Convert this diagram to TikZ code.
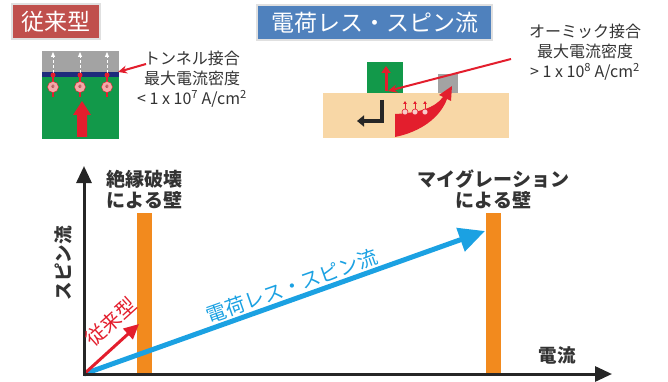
\documentclass[tikz,border=0pt]{standalone}
\usepackage{fontspec}
\setmainfont{Noto Sans CJK JP}
\usetikzlibrary{positioning,arrows.meta}

\definecolor{oldred}{HTML}{C0504D}
\definecolor{newblue}{HTML}{4F81BD}
\definecolor{wallorange}{HTML}{F28A1E}
\definecolor{spinblue}{HTML}{1BA1E2}
\definecolor{arrowred}{HTML}{E31E2D}
\definecolor{textgray}{HTML}{333333}
\definecolor{chipgreen}{HTML}{12994A}
\definecolor{oxideblue}{HTML}{1E2B7C}
\definecolor{sand}{HTML}{F8D7A6}
\definecolor{padgray}{HTML}{A3A3A3}
\definecolor{electron}{HTML}{F4A8A8}

\begin{document}
\begin{tikzpicture}[x=1pt, y=-1pt,
    every node/.style={text=textgray, align=center, inner sep=0pt},
    titlebox/.style={draw=black!12, line width=2pt, text=white,
                     font=\fontsize{23}{26}\selectfont, minimum height=35pt},
    note/.style={font=\fontsize{16}{20}\selectfont},
    walllabel/.style={font=\bfseries\fontsize{19}{21}\selectfont},
    axislabel/.style={font=\bfseries\fontsize{18.5}{21}\selectfont},
    wall/.style={fill=wallorange, minimum width=15pt, minimum height=161pt},
    axis/.style={draw=black!85, line width=3pt,
                 {Triangle[length=17pt,width=15pt]}-{Triangle[length=17pt,width=15pt]}},
    pointer/.style={draw=arrowred, line width=2pt, -{Stealth[length=9pt,width=8pt]}}
]
\useasboundingbox (0,0) rectangle (668,382);

% titles
\node[titlebox, fill=oldred, minimum width=88pt] (oldtitle) at (56,22) {従来型};
\node[titlebox, fill=newblue, minimum width=235pt] (newtitle) at (374.5,23) {電荷レス・スピン流};

% tunnel junction device
\fill[padgray] (42,51) rectangle (119,72);
\fill[oxideblue] (42,72) rectangle (119,77);
\fill[chipgreen] (42,77) rectangle (119,139);
\foreach \x in {53,80,107} {
  \draw[white, densely dashed, line width=0.8pt, -{Triangle[length=5pt,width=4pt]}] (\x,73) -- (\x,52);
  \draw[arrowred, line width=1.5pt] (\x,75) -- (\x,97);
  \fill[arrowred] (\x,75) circle (2.5);
  \draw[arrowred, fill=electron] (\x,87) circle (5.5);
  \node[font=\fontsize{6}{6}\selectfont, text=arrowred!60!black] at (\x,87) {e};
}
\fill[arrowred] (77,137) -- (77,115) -- (73,115) -- (82,101) -- (91,115) -- (87,115) -- (87,137) -- cycle;

\node[note] (tunnel) at (192,79) {トンネル接合\\最大電流密度\\< 1 x 10\textsuperscript{7} A/cm\textsuperscript{2}};
\coordinate (tunnelfrom) at (146,64);
\coordinate (tunnelto) at (118,72);
\draw[pointer] (tunnelfrom) -- (tunnelto);

% ohmic contact device
\fill[sand] (323,93) rectangle (509,138);
\fill[chipgreen] (367,62) rectangle (403,93);
\fill[padgray] (438,74) rectangle (458,93);
\draw[arrowred, line width=3pt, -{Triangle[length=7pt,width=9pt]}] (386,91) -- (386,66);
\draw[black!85, line width=4pt, -{Triangle[length=7pt,width=11pt]}] (382,100) -- (382,121) -- (357,121);
\fill[arrowred] (395,114) .. controls (418,113) and (435,108) .. (443,97)
  -- (439,95) -- (452,86) -- (451,101) -- (447,99)
  .. controls (440,118) and (420,132) .. (395,137) -- cycle;
\foreach \x in {405,415,425} {
  \draw[arrowred, line width=0.8pt, -{Triangle[length=3pt,width=3.5pt]}] (\x,109) -- (\x,101);
  \draw[arrowred, fill=electron!60, line width=0.6pt] (\x,112) circle (3);
}

\node[note] (ohmic) at (585,52) {オーミック接合\\最大電流密度\\> 1 x 10\textsuperscript{8} A/cm\textsuperscript{2}};
\coordinate (ohmicfrom) at (511,59);
\coordinate (ohmicto) at (388,91);
\draw[pointer] (ohmicfrom) -- (ohmicto);

% current vs spin current
\coordinate (O) at (84,374);
\coordinate (ytop) at (84,166);
\coordinate (xend) at (612,374);
\coordinate (oldtip) at (139,324);
\coordinate (newtip) at (485,231);

\node[wall] (wallA) at (144.5,293.5) {};
\node[wall] (wallB) at (493.5,293.5) {};
\node[walllabel, above=4pt of wallA] (wallAlbl) {絶縁破壊\\による壁};
\node[walllabel, above=4pt of wallB] (wallBlbl) {マイグレーション\\による壁};

\draw[spinblue, line width=5pt, -{Triangle[length=26pt,width=24pt]}] (O) -- (newtip);
\draw[arrowred, line width=3pt, -{Triangle[length=15pt,width=14pt]}] (O) -- (oldtip);
\draw[axis] (ytop) -- (O) -- (xend);

\node[font=\fontsize{20}{20}\selectfont, text=arrowred, rotate=42] (oldlbl) at (111,322) {従来型};
\node[font=\fontsize{20}{20}\selectfont, text=spinblue, rotate=19.5] (newlbl) at (292,286) {電荷レス・スピン流};
\node[axislabel, rotate=90] (ylbl) at (63,263) {スピン流};
\node[axislabel] (xlbl) at (557,355) {電流};

\end{tikzpicture}
\end{document}
